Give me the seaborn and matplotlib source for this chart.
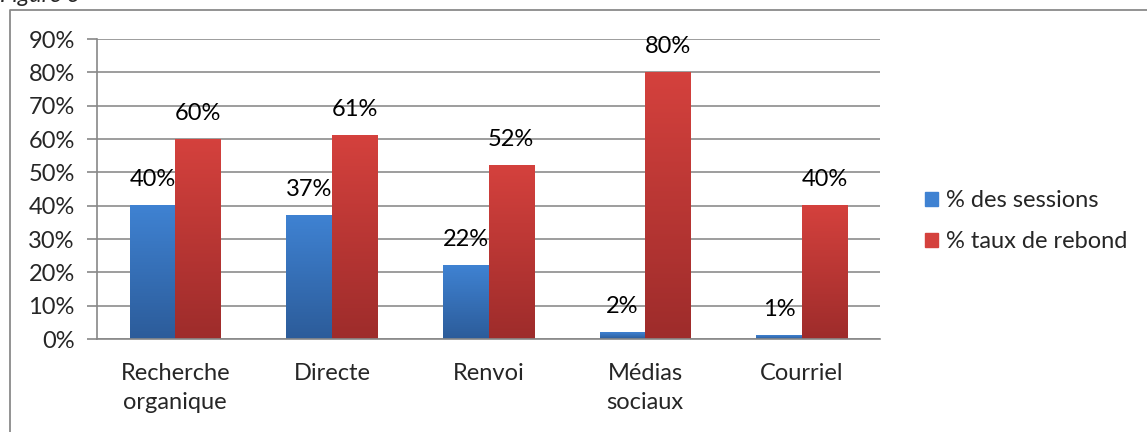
import seaborn as sns
import matplotlib.pyplot as plt
import matplotlib.colors as mcolors
from matplotlib.lines import Line2D
import numpy as np
import pandas as pd

categories = ['Recherche\norganique', 'Directe', 'Renvoi', 'Médias\nsociaux', 'Courriel']
series = ['% des sessions', '% taux de rebond']
sessions = [40, 37, 22, 2, 1]
rebond = [60, 61, 52, 80, 40]

df = pd.DataFrame({
    'cat': categories * 2,
    'serie': [series[0]] * len(categories) + [series[1]] * len(categories),
    'val': sessions + rebond,
})

sns.set_theme(style='white')
plt.rcParams['font.family'] = ['Lato', 'DejaVu Sans']
fs = 17

fig = plt.figure(figsize=(11.47, 4.32), dpi=100)
ax = fig.add_axes([97 / 1147, 93 / 432, (880 - 97) / 1147, 300 / 432])

palette = {series[0]: '#3a78c6', series[1]: '#c83a38'}
sns.barplot(data=df, x='cat', y='val', hue='serie', palette=palette, width=0.58,
            gap=0, saturation=1, ax=ax, legend=True)

# Excel-like vertical gradients
grads = {series[0]: ('#3f82d2', '#2c5c9a'), series[1]: ('#d4413d', '#9e2c2b')}
for cont, name in zip(ax.containers, series):
    top, bot = grads[name]
    cmap = mcolors.LinearSegmentedColormap.from_list(name, [bot, top])
    for p in cont.patches:
        x0, y0 = p.get_x(), p.get_y()
        w, h = p.get_width(), p.get_height()
        grad = np.linspace(0, 1, 64).reshape(-1, 1)
        ax.imshow(grad, cmap=cmap, origin='lower', aspect='auto',
                  extent=(x0, x0 + w, y0, y0 + h), zorder=p.get_zorder(),
                  interpolation='bicubic')
        p.set_facecolor('none')
        p.set_edgecolor('none')
    for p, v in zip(cont.patches, [sessions, rebond][series.index(name)]):
        ax.annotate(f'{v}%', (p.get_x() + p.get_width() / 2, p.get_height()),
                    xytext=(0, 11), textcoords='offset points',
                    ha='center', va='bottom', fontsize=fs, color='black')

ax.set_xlim(-0.5, len(categories) - 0.5)
ax.set_ylim(0, 90)
ax.set_yticks(range(0, 91, 10))
ax.set_yticklabels([f'{t}%' for t in range(0, 91, 10)], fontsize=fs)
ax.set_xticks(range(len(categories)))
ax.set_xticklabels(categories, fontsize=fs, linespacing=1.5)
ax.set_xticks(np.arange(-0.5, len(categories), 1), minor=True)
ax.tick_params(axis='x', which='major', length=0, pad=17)
ax.tick_params(axis='x', which='minor', length=7, width=1.2, color='#888888', direction='out')
ax.tick_params(axis='y', length=7, width=1.2, color='#888888', direction='out', left=True, pad=9)
ax.set_xlabel('')
ax.set_ylabel('')
ax.grid(axis='y', color='#8c8c8c', linewidth=1.2)
ax.set_axisbelow(True)
for s in ['top', 'right']:
    ax.spines[s].set_visible(False)
for s in ['left', 'bottom']:
    ax.spines[s].set_color('#888888')
    ax.spines[s].set_linewidth(1.2)

handles = [plt.Rectangle((0, 0), 1, 1, color=grads[s][0]) for s in series]
ax.legend(handles, series, loc='center left', bbox_to_anchor=(1.03, 0.393),
          frameon=False, fontsize=fs, handlelength=0.55, handleheight=0.55,
          handletextpad=0.35, labelspacing=0.85)

# outer frame and clipped caption
fig.add_artist(Line2D([10 / 1147, 10 / 1147, 1], [0, 1 - 10 / 432, 1 - 10 / 432],
                      transform=fig.transFigure, color='#8a8a8a', linewidth=1.3))
fig.text(0.0, 1 - 2 / 432, 'Figure 6', fontsize=fs, style='italic', va='baseline')

fig.savefig('out.png', dpi=100)
